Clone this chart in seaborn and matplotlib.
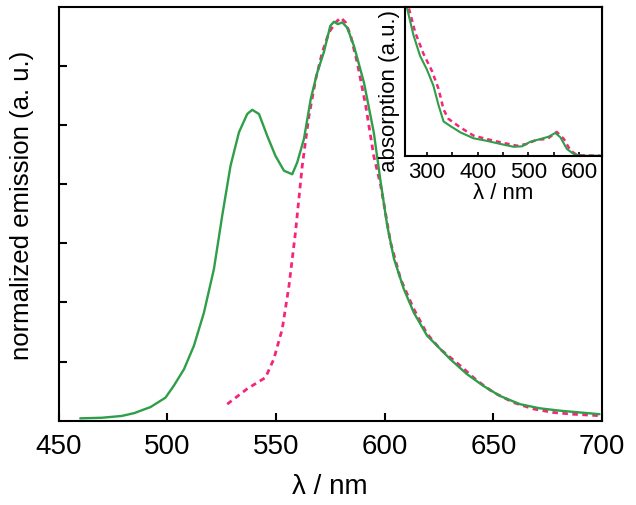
import numpy as np
import pandas as pd
import matplotlib
matplotlib.use('Agg')
import matplotlib.pyplot as plt
import seaborn as sns

sns.set_style('ticks')
plt.rcParams['font.family'] = ['Liberation Sans', 'DejaVu Sans']
plt.rcParams.update({'text.color': 'black', 'axes.labelcolor': 'black',
                     'xtick.color': 'black', 'ytick.color': 'black',
                     'axes.edgecolor': 'black'})

# emission spectra (main panel)
em_green_x = [460, 470, 479, 485, 490, 492.3, 499.2, 503, 507.7, 512.3, 516.9, 521.5, 525.3, 529.1, 533,
              536.8, 539.1, 542.2, 546, 549.8, 553.7, 557.5, 559.8, 562.9, 566, 569, 572, 575, 576.7,
              578.5, 580.5, 582.8, 585.9, 590.5, 595, 598.2, 601.2, 604.3, 608.8, 613.4, 619.5, 624.1,
              630.2, 637.8, 645.4, 653, 662.2, 671.3, 680.5, 689.6, 698.8]
em_green_y = [0.04, 0.05, 0.08, 0.13, 0.2, 0.23, 0.39, 0.59, 0.87, 1.27, 1.83, 2.57, 3.47, 4.31, 4.88,
              5.19, 5.26, 5.19, 4.82, 4.48, 4.23, 4.17, 4.37, 4.77, 5.44, 5.89, 6.23, 6.68, 6.75,
              6.71, 6.74, 6.65, 6.34, 5.72, 4.88, 4.03, 3.3, 2.74, 2.23, 1.83, 1.44, 1.27,
              1.04, 0.79, 0.59, 0.42, 0.28, 0.21, 0.17, 0.14, 0.11]
em_pink_x = [527.6, 536.8, 545.2, 549, 552.9, 556, 559, 562.1, 565.2, 568.3, 571.3, 574.4, 577.5, 579.8,
             582, 584.4, 587.4, 591.3, 595, 598.2, 602.7, 607.3, 613.4, 619.5, 625.6, 634.8, 642.4,
             650, 659.1, 668.3, 677.4, 686.6, 698.8]
em_pink_y = [0.28, 0.54, 0.73, 1.04, 1.55, 2.28, 3.19, 4.31, 5.16, 5.78, 6.23, 6.57, 6.74, 6.82,
             6.74, 6.51, 6.06, 5.33, 4.48, 3.98, 3.02, 2.4, 1.89, 1.47, 1.21, 0.93, 0.68,
             0.48, 0.31, 0.2, 0.14, 0.11, 0.085]

# absorption spectra (inset)
ab_green_x = [258, 260.5, 273.7, 286.8, 300, 313, 323, 333, 346, 366, 392, 418, 445, 471, 487.5, 504,
              523.7, 540, 553, 563, 576, 589.5, 603, 642]
ab_green_y = [1.05, 1.0, 0.81, 0.67, 0.58, 0.47, 0.34, 0.23, 0.2, 0.157, 0.117, 0.10, 0.079, 0.06, 0.063,
              0.094, 0.112, 0.128, 0.153, 0.124, 0.045, 0.011, 0.0, 0.0]
ab_pink_x = [262, 264, 277, 293.4, 310, 323, 333, 342.8, 366, 392, 418, 445, 477.6, 497, 517, 537, 556,
             570, 583, 596, 642]
ab_pink_y = [1.05, 1.0, 0.83, 0.685, 0.57, 0.45, 0.31, 0.247, 0.19, 0.135, 0.112, 0.09, 0.067, 0.079,
             0.108, 0.112, 0.16, 0.112, 0.034, 0.004, 0.0]

green = '#2e9e48'
pink = '#f5267a'

fig = plt.figure(figsize=(6.36, 5.06), dpi=100)
ax = fig.add_axes([0.092, 0.1666, 0.8546, 0.8176])

sns.lineplot(x=em_pink_x, y=em_pink_y, ax=ax, color=pink, lw=2.0, linestyle=(0, (2, 1.6)))
sns.lineplot(x=em_green_x, y=em_green_y, ax=ax, color=green, lw=1.7)
ax.set_xlim(450, 700)
ax.set_ylim(0, 7)
ax.set_xticks([450, 500, 550, 600, 650, 700])
ax.set_yticks([1, 2, 3, 4, 5, 6])
ax.set_yticklabels([])
ax.tick_params(direction='in', length=6, width=1.5, labelsize=20, pad=9)
ax.set_xlabel('λ / nm', fontsize=20, labelpad=10)
ax.set_ylabel('normalized emission (a. u.)', fontsize=18.5, labelpad=12)
ax.yaxis.set_label_coords(-0.045, 0.522)
for s in ax.spines.values():
    s.set_linewidth(1.5)

# inset
ins = fig.add_axes([0.6368, 0.6903, 0.3097, 0.294])
sns.lineplot(x=ab_pink_x, y=ab_pink_y, ax=ins, color=pink, lw=1.8, linestyle=(0, (2, 1.6)))
sns.lineplot(x=ab_green_x, y=ab_green_y, ax=ins, color=green, lw=1.5)
ins.set_xlim(257, 645)
ins.set_ylim(0, 1)
ins.set_xticks([300, 350, 400, 450, 500, 550, 600])
ins.set_xticklabels(['300', '', '400', '', '500', '', '600'])
ins.set_yticks([])
ins.tick_params(direction='in', length=3, width=1.2, labelsize=16, pad=4)
ins.set_xlabel('λ / nm', fontsize=16, labelpad=0)
ins.set_ylabel('absorption (a.u.)', fontsize=16, labelpad=1)
ins.yaxis.set_label_coords(-0.025, 0.44)
for s in ins.spines.values():
    s.set_linewidth(1.5)

fig.savefig('out.png', dpi=100)
